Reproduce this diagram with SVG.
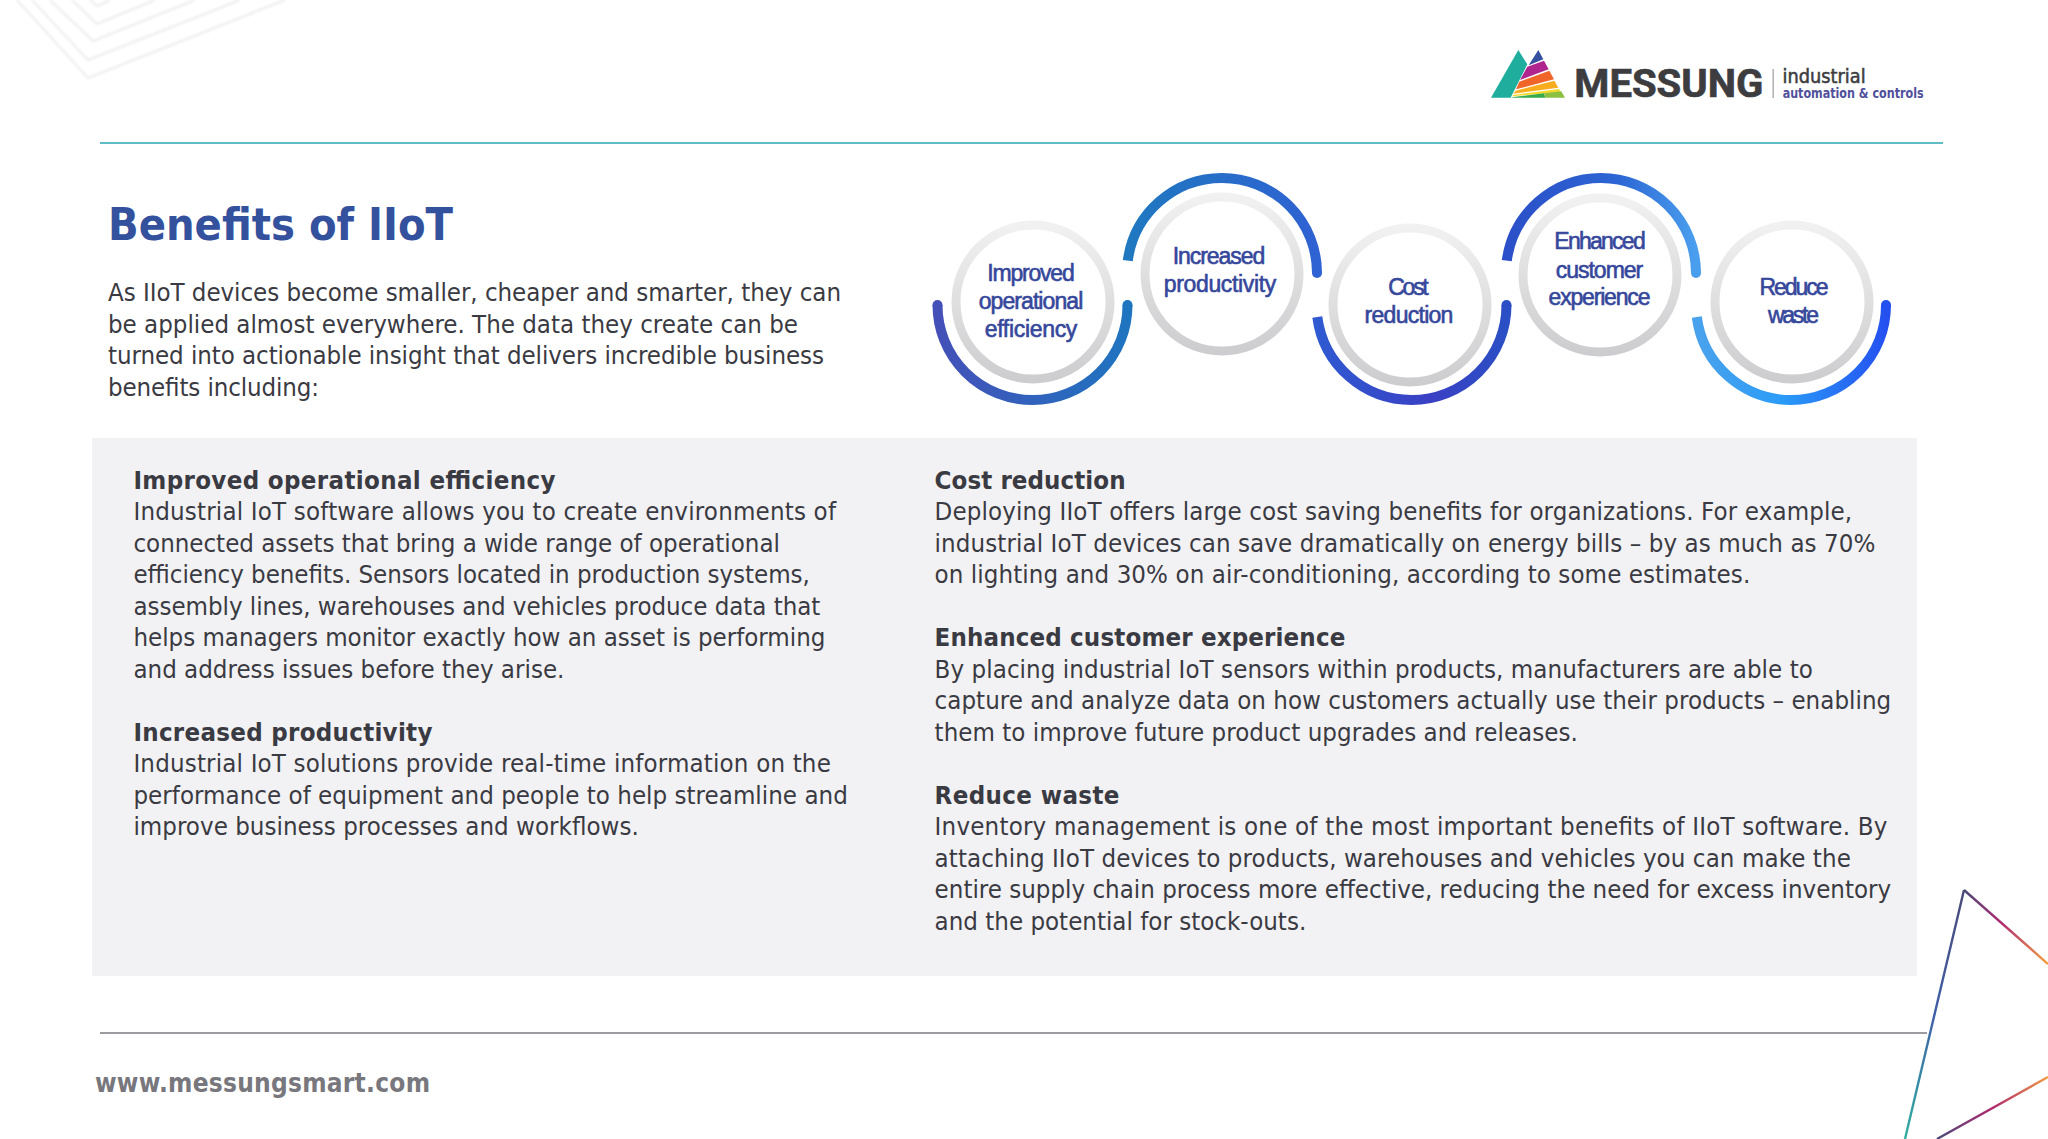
<svg xmlns="http://www.w3.org/2000/svg" width="2048" height="1139" viewBox="0 0 2048 1139">
<style>
text{font-family:"DejaVu Sans Condensed","DejaVu Sans",sans-serif;font-size:25.6px;fill:#3a3a42}
.b{font-weight:bold}
.title{font-size:44px;font-weight:bold;fill:#34519e}
.foot{font-size:26px;font-weight:bold;fill:#77777d}
.c{font-family:"Liberation Sans",Arial,sans-serif;font-size:23px;fill:#35479b;stroke:#35479b;stroke-width:0.6;text-anchor:middle}
.ring{fill:none;stroke:url(#ringG);stroke-width:9}
.arc{fill:none;stroke-width:10}
.chev{fill:none;stroke:#f0f0f0;stroke-width:2.5}
</style>
<defs>
<linearGradient id="ringG" x1="0" y1="0" x2="0" y2="1"><stop offset="0" stop-color="#f1f1f1"/><stop offset="1" stop-color="#cdcdcf"/></linearGradient>
<linearGradient id="a1" gradientUnits="userSpaceOnUse" x1="937" y1="0" x2="1127" y2="0"><stop offset="0" stop-color="#4450b8"/><stop offset="1" stop-color="#1f74c0"/></linearGradient>
<linearGradient id="a2" gradientUnits="userSpaceOnUse" x1="1127" y1="0" x2="1317" y2="0"><stop offset="0" stop-color="#1f78c0"/><stop offset="1" stop-color="#2f62d2"/></linearGradient>
<linearGradient id="a3" gradientUnits="userSpaceOnUse" x1="1316" y1="0" x2="1506" y2="0"><stop offset="0" stop-color="#2f5ad2"/><stop offset="0.6" stop-color="#3a40c4"/><stop offset="1" stop-color="#2b4fc4"/></linearGradient>
<linearGradient id="a4" gradientUnits="userSpaceOnUse" x1="1505" y1="0" x2="1695" y2="0"><stop offset="0" stop-color="#2b4fc8"/><stop offset="0.6" stop-color="#2c66d4"/><stop offset="1" stop-color="#4a9eee"/></linearGradient>
<linearGradient id="a5" gradientUnits="userSpaceOnUse" x1="1696" y1="0" x2="1886" y2="0"><stop offset="0" stop-color="#4aa2ec"/><stop offset="0.45" stop-color="#2a9cf8"/><stop offset="1" stop-color="#2450f0"/></linearGradient>
<linearGradient id="t1" gradientUnits="userSpaceOnUse" x1="1964" y1="890" x2="1905" y2="1139"><stop offset="0" stop-color="#4a4a78"/><stop offset="0.5" stop-color="#3f5fa8"/><stop offset="1" stop-color="#2fb0a0"/></linearGradient>
<linearGradient id="t2" gradientUnits="userSpaceOnUse" x1="1964" y1="890" x2="2048" y2="964"><stop offset="0" stop-color="#4a4a78"/><stop offset="0.45" stop-color="#b02a70"/><stop offset="1" stop-color="#f4a040"/></linearGradient>
<linearGradient id="t3" gradientUnits="userSpaceOnUse" x1="1937" y1="1139" x2="2048" y2="1077"><stop offset="0" stop-color="#4a4a78"/><stop offset="0.5" stop-color="#b02a70"/><stop offset="1" stop-color="#f09a40"/></linearGradient>
<filter id="soft" x="-5%" y="-5%" width="110%" height="110%"><feGaussianBlur stdDeviation="1"/></filter>
</defs>
<rect width="2048" height="1139" fill="#ffffff"/>
<g id="corner-top" filter="url(#soft)">
<polyline class="chev" points="17,0 88,78 285,0"/>
<polyline class="chev" points="32,0 88,60 240,0"/>
<polyline class="chev" points="50,0 93,41 195,0"/>
<polyline class="chev" points="72,0 97,24 155,0"/>
<polyline class="chev" points="90,0 97,6 110,0"/>
</g>
<g id="logo" transform="translate(1470 30) scale(0.3333)">
<polygon points="145,60 172,103 122,203 63,203" fill="#1fae9e"/>
<polygon points="205,60 220,88 176,106" fill="#34509e"/>
<polygon points="172,110 222,92 236,118 150,150" fill="#b0248e"/>
<polygon points="148,155 238,122 252,148 138,178" fill="#f0652a"/>
<polygon points="137,182 253,152 265,173 130,191" fill="#f7ad1d"/>
<polygon points="129,195 267,177 272,186 127,199" fill="#f4d92a"/>
<polygon points="124,203 130,201 222,190 226,203" fill="#35ab4a"/>
<polygon points="222,190 274,184 285,203 226,203" fill="#8cc040"/>
<text x="313" y="200" textLength="567" lengthAdjust="spacingAndGlyphs" style="font-family:Roboto,sans-serif;font-weight:bold;font-size:118px;fill:#3d3d3f;stroke:#3d3d3f;stroke-width:2">MESSUNG</text>
<rect x="908" y="117" width="3" height="87" fill="#8a8a8c"/>
<text x="938" y="160" textLength="249" lengthAdjust="spacingAndGlyphs" style="font-family:'DejaVu Sans Condensed',sans-serif;font-size:56px;fill:#3d3d3f;stroke:#3d3d3f;stroke-width:1.5">industrial</text>
<text x="938" y="203" textLength="423" lengthAdjust="spacingAndGlyphs" style="font-family:'DejaVu Sans Condensed',sans-serif;font-weight:bold;font-size:43px;fill:#50509c">automation &amp; controls</text>
</g>
<line id="rule-top" x1="100" y1="143" x2="1943" y2="143" stroke="#2aa6b0" stroke-width="1.6"/>
<text class="title" x="108" y="240" textLength="345" lengthAdjust="spacingAndGlyphs">Benefits of IIoT</text>
<g id="intro">
<text x="108" y="301.3" textLength="733">As IIoT devices become smaller, cheaper and smarter, they can</text>
<text x="108" y="332.7" textLength="690">be applied almost everywhere. The data they create can be</text>
<text x="108" y="364.1" textLength="716">turned into actionable insight that delivers incredible business</text>
<text x="108" y="395.5" textLength="211">benefits including:</text>
</g>
<g id="node-improved">
<circle class="ring" cx="1033" cy="302" r="77"/>
<path class="arc" stroke="url(#a1)" d="M937.5 305A95 95 0 0 0 1032.5 400A95 95 0 0 0 1127.5 305"/><circle cx="937.5" cy="305" r="5" fill="#4450b8"/><circle cx="1127.5" cy="305" r="5" fill="#1f74c0"/>
<text class="c" x="1031" y="280.5" textLength="87.5">Improved</text><text class="c" x="1031" y="309" textLength="104.5">operational</text><text class="c" x="1031" y="337" textLength="92.7">efficiency</text>
</g>
<g id="node-productivity">
<circle class="ring" cx="1222" cy="274" r="77"/>
<path class="arc" stroke="url(#a2)" d="M1127.8 260.7A95 95 0 0 1 1222 178A95 95 0 0 1 1317 273"/><circle cx="1317" cy="273" r="5" fill="#2f62d2"/>
<text class="c" x="1219" y="263.5" textLength="92.7">Increased</text><text class="c" x="1220" y="291.5" textLength="112.3">productivity</text>
</g>
<g id="node-cost">
<circle class="ring" cx="1410" cy="305" r="77"/>
<path class="arc" stroke="url(#a3)" d="M1317.3 317A95 95 0 0 0 1411.5 400A95 95 0 0 0 1506.5 305"/><circle cx="1506.5" cy="305" r="5" fill="#2b4fc4"/>
<text class="c" x="1408.5" y="294.5" textLength="40.5">Cost</text><text class="c" x="1409" y="323" textLength="88.8">reduction</text>
</g>
<g id="node-experience">
<circle class="ring" cx="1600" cy="275" r="77"/>
<path class="arc" stroke="url(#a4)" d="M1506.8 260.7A95 95 0 0 1 1601 178A95 95 0 0 1 1696 273"/><circle cx="1696" cy="273" r="5" fill="#4a9eee"/>
<text class="c" x="1600" y="248.5" textLength="91.4">Enhanced</text><text class="c" x="1599.5" y="277.5" textLength="87.5">customer</text><text class="c" x="1599.5" y="305" textLength="101.9">experience</text>
</g>
<g id="node-waste">
<circle class="ring" cx="1792" cy="302" r="77"/>
<path class="arc" stroke="url(#a5)" d="M1696.8 317A95 95 0 0 0 1791 400A95 95 0 0 0 1886 305"/><circle cx="1886" cy="305" r="5" fill="#2450f0"/>
<text class="c" x="1794" y="294.5" textLength="69.2">Reduce</text><text class="c" x="1793.5" y="323" textLength="51">waste</text>
</g>
<rect id="panel" x="92" y="438" width="1825" height="538" fill="#f2f2f4"/>
<g id="col-left">
<text class="b" x="133.4" y="488.7" textLength="422">Improved operational efficiency</text>
<text x="133.4" y="520.1" textLength="702.6">Industrial IoT software allows you to create environments of</text>
<text x="133.4" y="551.6" textLength="646.5">connected assets that bring a wide range of operational</text>
<text x="133.4" y="583.1" textLength="676.5">efficiency benefits. Sensors located in production systems,</text>
<text x="133.4" y="614.6" textLength="687">assembly lines, warehouses and vehicles produce data that</text>
<text x="133.4" y="646.1" textLength="692">helps managers monitor exactly how an asset is performing</text>
<text x="133.4" y="677.6" textLength="431">and address issues before they arise.</text>
<text class="b" x="133.4" y="740.6" textLength="299">Increased productivity</text>
<text x="133.4" y="772.1" textLength="697.4">Industrial IoT solutions provide real-time information on the</text>
<text x="133.4" y="803.6" textLength="714.4">performance of equipment and people to help streamline and</text>
<text x="133.4" y="835.1" textLength="505.4">improve business processes and workflows.</text>
</g>
<g id="col-right">
<text class="b" x="934.6" y="488.7" textLength="191">Cost reduction</text>
<text x="934.6" y="520.1" textLength="917.5">Deploying IIoT offers large cost saving benefits for organizations. For example,</text>
<text x="934.6" y="551.6" textLength="940.9">industrial IoT devices can save dramatically on energy bills – by as much as 70%</text>
<text x="934.6" y="583.1" textLength="815.6">on lighting and 30% on air-conditioning, according to some estimates.</text>
<text class="b" x="934.6" y="646.1" textLength="410.7">Enhanced customer experience</text>
<text x="934.6" y="677.6" textLength="878.3">By placing industrial IoT sensors within products, manufacturers are able to</text>
<text x="934.6" y="709.1" textLength="956.6">capture and analyze data on how customers actually use their products – enabling</text>
<text x="934.6" y="740.6" textLength="643.2">them to improve future product upgrades and releases.</text>
<text class="b" x="934.6" y="803.6" textLength="184.8">Reduce waste</text>
<text x="934.6" y="835.1" textLength="952.7">Inventory management is one of the most important benefits of IIoT software. By</text>
<text x="934.6" y="866.6" textLength="916.2">attaching IIoT devices to products, warehouses and vehicles you can make the</text>
<text x="934.6" y="898.1" textLength="956.6">entire supply chain process more effective, reducing the need for excess inventory</text>
<text x="934.6" y="929.6" textLength="371.6">and the potential for stock-outs.</text>
</g>
<line id="rule-bottom" x1="100" y1="1033" x2="1927" y2="1033" stroke="#7a7a80" stroke-width="1.6"/>
<text class="foot" x="95" y="1092" textLength="335">www.messungsmart.com</text>
<g id="corner-bottom" fill="none" stroke-width="2.4">
<polyline stroke="url(#t1)" points="1905,1139 1964,890"/>
<polyline stroke="url(#t2)" points="1964,890 2048,964"/>
<polyline stroke="url(#t3)" points="1937,1139 2048,1077"/>
</g>
</svg>
